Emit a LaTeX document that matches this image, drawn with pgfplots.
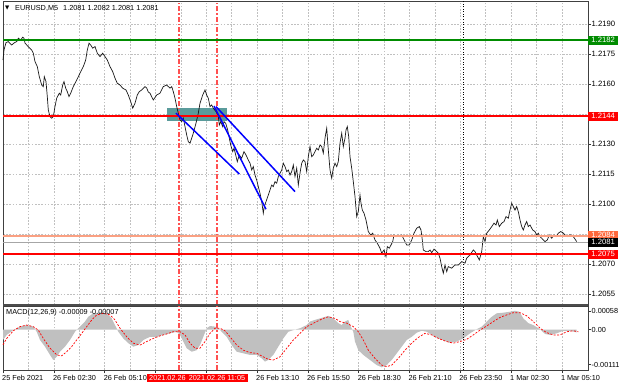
\documentclass[border=0pt]{standalone}
\usepackage{pgfplots}
\pgfplotsset{compat=1.18}
\usepackage{fontspec}
\setmainfont{Liberation Sans}
\newfontfamily\dejavu{DejaVu Sans}
\definecolor{gridc}{RGB}{192,192,192}
\definecolor{mtgreen}{RGB}{0,140,0}
\definecolor{mtred}{RGB}{255,0,0}
\definecolor{mtorange}{RGB}{255,105,60}
\definecolor{mtsalmon}{RGB}{250,160,130}
\definecolor{mtteal}{RGB}{90,155,155}
\definecolor{vred}{RGB}{255,80,80}
\definecolor{histc}{RGB}{192,192,192}
\newcommand{\tf}{\fontsize{7.3}{8}\selectfont}
\newcommand{\yf}{\fontsize{7.7}{8}\selectfont}
\pgfplotsset{mt/.style={scale only axis, width=585pt, xmin=3, xmax=588, clip=false,
  axis line style={black!75, line width=0.6pt},
  xmajorgrids, xminorgrids,
  grid style={gridc, dash pattern=on 1.6pt off 1.6pt, line width=0.5pt},
  minor grid style={gridc, dash pattern=on 1.6pt off 1.6pt, line width=0.5pt},
  xtick={3,53.8,104.6,155.4,206.2,257,307.8,358.6,409.4,460.2,511,561.8},
  minor xtick={28.4,79.2,130,180.8,231.6,282.4,333.2,384,434.8,485.6,536.4},
  tick align=outside, major tick length=3pt, minor tick length=0pt,
  ytick pos=right, yticklabel pos=right,
  tick style={black!80, line width=0.5pt},
  ticklabel style={font=\tf, text=black},
  yticklabel style={font=\yf, inner sep=0.5pt},
  scaled ticks=false,
}}
\tikzset{lbl/.style={anchor=west, text=white, font=\yf, inner sep=0pt, minimum width=30pt, minimum height=9pt},
  vline/.style={vred, line width=1.2pt, dash pattern=on 5pt off 2pt on 1.5pt off 2pt}}
\begin{document}
\begin{tikzpicture}[x=1pt,y=1pt]
\path[use as bounding box, fill=white] (0,0) rectangle (620,-388);
\begin{axis}[mt, name=main, at={(3pt,-1pt)}, anchor=north west, height=304pt,
  ymin=1.20495, ymax=1.22015, ymajorgrids,
  ytick={1.2055,1.2070,1.2085,1.2100,1.2115,1.2130,1.2145,1.2160,1.2175,1.2190},
  yticklabels={1.2055,1.2070,,1.2100,1.2115,1.2130,,1.2160,1.2175,1.2190},
  xticklabels={}, xtick style={draw=none}]
% teal zone
\addplot[fill=mtteal, draw=none] coordinates {(167.3,1.21417) (227.3,1.21417) (227.3,1.21479) (167.3,1.21479)} -- cycle;
% vertical separators
\addplot[vline] coordinates {(179,1.20495) (179,1.22015)};
\addplot[vline] coordinates {(217,1.20495) (217,1.22015)};
\addplot[black, line width=0.8pt, dash pattern=on 1pt off 1.5pt] coordinates {(463,1.20495) (463,1.22015)};
% price
\addplot[black!90, line width=0.7pt] coordinates {
(3,1.21720) (4,1.21770) (6,1.21807) (8.3,1.21812) (11.7,1.21795) (14,1.21805) (16.7,1.21812) (18.3,1.21829) (20.7,1.21820) (22.7,1.21834) (24,1.21829) (25,1.21804) (28.3,1.21787) (31.7,1.21770) (33.3,1.21754) (35,1.21712) (37.3,1.21687) (39.3,1.21637) (41.7,1.21595) (43.3,1.21587) (44.3,1.21637) (46,1.21612) (47.3,1.21537) (48.3,1.21470) (50,1.21437) (51.7,1.21429) (53.3,1.21437) (55,1.21487) (56.7,1.21529) (59.3,1.21554) (60.7,1.21545) (62.7,1.21595) (64,1.21612) (65.7,1.21579) (67.3,1.21562) (69,1.21537) (70.7,1.21554) (73.3,1.21587) (76.7,1.21620) (80,1.21654) (83.3,1.21687) (85.7,1.21720) (87.3,1.21770) (89,1.21804) (90.7,1.21795) (92.7,1.21779) (95,1.21787) (97.3,1.21754) (100,1.21737) (102.7,1.21754) (105,1.21737) (107.3,1.21720) (110,1.21687) (112.7,1.21662) (115,1.21629) (117.3,1.21604) (120,1.21595) (122.7,1.21579) (126,1.21570) (128.3,1.21545) (130.7,1.21512) (132.7,1.21479) (135,1.21504) (137.3,1.21545) (139.3,1.21562) (141.7,1.21570) (143.3,1.21579) (145,1.21587) (146.7,1.21580) (148.3,1.21560) (150,1.21554) (153.3,1.21520) (156.7,1.21545) (160,1.21554) (163.3,1.21587) (166.7,1.21595) (170,1.21579) (171.7,1.21587) (173.3,1.21562) (175,1.21529) (176.7,1.21487) (178.3,1.21454) (180,1.21420) (181.7,1.21412) (183.3,1.21429) (185,1.21387) (186.7,1.21345) (188.3,1.21312) (190,1.21304) (191.7,1.21329) (193.3,1.21354) (196,1.21404) (198.3,1.21454) (200,1.21504) (202.7,1.21545) (205,1.21570) (206.7,1.21545) (208.3,1.21529) (210,1.21487) (211.7,1.21495) (213.3,1.21479) (216,1.21462) (218.3,1.21437) (219.3,1.21395) (220.7,1.21412) (222.7,1.21387) (224,1.21412) (225.7,1.21404) (227.7,1.21370) (229.3,1.21329) (230.7,1.21295) (232.7,1.21262) (234,1.21279) (235.7,1.21245) (237.3,1.21212) (239.3,1.21245) (241.7,1.21229) (244,1.21262) (246,1.21245) (248.3,1.21220) (250,1.21204) (251.7,1.21170) (253.3,1.21187) (255,1.21145) (256.7,1.21120) (258.3,1.21087) (260,1.21054) (261.7,1.21012) (263.3,1.20954) (264.3,1.20987) (266,1.21012) (268.3,1.21045) (270,1.21070) (271.7,1.21095) (273.3,1.21087) (275,1.21112) (276.7,1.21104) (278.3,1.21137) (280,1.21154) (281.7,1.21170) (283.3,1.21204) (285,1.21187) (286.7,1.21162) (288.3,1.21170) (290,1.21145) (291.7,1.21162) (293.3,1.21195) (295,1.21137) (296.7,1.21179) (298.3,1.21095) (300,1.21154) (301.7,1.21204) (303.3,1.21220) (305,1.21212) (306.7,1.21162) (308.3,1.21237) (310,1.21287) (311.7,1.21237) (313.3,1.21245) (315,1.21262) (316.7,1.21279) (318.3,1.21270) (320,1.21295) (321.7,1.21287) (323.3,1.21254) (325,1.21329) (326.7,1.21379) (328.3,1.21270) (330,1.21170) (331.7,1.21129) (333.3,1.21179) (335,1.21204) (336.7,1.21187) (338.3,1.21212) (340,1.21304) (341.7,1.21354) (343.3,1.21287) (345,1.21329) (346,1.21370) (347.3,1.21387) (348.7,1.21337) (350,1.21237) (351.7,1.21179) (353.3,1.21112) (355,1.21037) (356.7,1.20937) (358.3,1.20962) (360,1.21045) (361,1.21004) (362.3,1.20970) (364,1.20954) (366,1.20920) (368.3,1.20862) (370.7,1.20845) (372.7,1.20854) (375,1.20820) (377.3,1.20804) (380,1.20779) (381.7,1.20754) (384,1.20770) (386,1.20737) (387.3,1.20787) (389.3,1.20779) (391,1.20795) (392.7,1.20812) (394,1.20845) (396,1.20837) (398.3,1.20845) (400,1.20837) (401.7,1.20845) (403.3,1.20829) (405,1.20812) (406.7,1.20795) (409.3,1.20795) (411.7,1.20820) (414,1.20854) (416.7,1.20879) (419.3,1.20887) (421,1.20870) (422.3,1.20820) (423.3,1.20770) (426,1.20762) (428.3,1.20762) (430,1.20770) (431.7,1.20757) (434,1.20774) (436.7,1.20762) (438.3,1.20754) (440,1.20729) (441.7,1.20687) (443.3,1.20654) (445,1.20695) (446.7,1.20662) (448.3,1.20687) (451.7,1.20679) (455,1.20695) (458.3,1.20695) (461.7,1.20712) (465,1.20704) (466.7,1.20729) (470,1.20745) (473.3,1.20770) (475,1.20762) (476.7,1.20745) (479.3,1.20720) (481.7,1.20762) (483.3,1.20837) (485,1.20812) (486.7,1.20854) (489.3,1.20870) (491.7,1.20887) (494,1.20904) (496,1.20895) (497.3,1.20920) (499.3,1.20887) (501.7,1.20904) (504,1.20912) (506,1.20937) (508.3,1.20929) (510,1.20970) (511.7,1.21004) (513.3,1.20987) (515,1.20970) (516.7,1.20987) (518.3,1.20962) (520,1.20920) (521.7,1.20887) (523.3,1.20870) (525,1.20895) (526.7,1.20912) (528.3,1.20887) (530,1.20895) (532.7,1.20870) (535,1.20862) (536.7,1.20845) (538.3,1.20854) (540,1.20837) (541.7,1.20829) (545,1.20812) (547.3,1.20820) (549.3,1.20845) (551.7,1.20829) (554,1.20845) (556,1.20837) (558.3,1.20854) (560.7,1.20862) (562.7,1.20857) (565,1.20845) (567.3,1.20837) (569.3,1.20845) (571.7,1.20845) (573.3,1.20837) (576.7,1.20812)};
% horizontal levels
\addplot[mtgreen, line width=1.6pt] coordinates {(3,1.2182) (588,1.2182)};
\addplot[mtred, line width=1.6pt] coordinates {(3,1.2144) (588,1.2144)};
\addplot[mtsalmon, line width=1.2pt] coordinates {(3,1.2084) (588,1.2084)};
\addplot[gray!70, line width=0.5pt] coordinates {(3,1.2081) (588,1.2081)};
\addplot[mtred, line width=2.6pt] coordinates {(3,1.2075) (588,1.2075)};
% trend lines
\addplot[blue, line width=1.5pt] coordinates {(176,1.21454) (239.3,1.21150)};
\addplot[blue, line width=1.5pt] coordinates {(214,1.21490) (266,1.20974)};
\addplot[blue, line width=1.5pt] coordinates {(216,1.21487) (295,1.21062)};
% price labels
\node[lbl, fill=mtgreen] at (axis cs:588,1.2182) {1.2182};
\node[lbl, fill=mtred] at (axis cs:588,1.2144) {1.2144};
\node[lbl, fill=mtorange, yshift=1pt] at (axis cs:588,1.2084) {1.2084};
\node[lbl, fill=black] at (axis cs:588,1.2081) {1.2081};
\node[lbl, fill=mtred] at (axis cs:588,1.2075) {1.2075};
\end{axis}
\begin{axis}[mt, name=macd, at={(3pt,-306pt)}, anchor=north west, height=64pt,
  ymin=-0.0012758, ymax=0.00074025,
  ytick={-0.00111,0,0.00058}, yticklabels={-0.00111,0.00,0.00058},
  yticklabel style={font=\tf},
  xtick pos=bottom,
  xticklabels={25 Feb 2021,26 Feb 02:30,26 Feb 05:10,,,26 Feb 13:10,26 Feb 15:50,26 Feb 18:30,26 Feb 21:10,26 Feb 23:50,1 Mar 02:30,1 Mar 05:10},
  xticklabel style={anchor=north west, xshift=-2pt, yshift=-1.5pt, inner sep=1pt}]
\addplot[fill=histc, draw=none] coordinates {
(3,-0.00033) (6.7,-0.00017) (13.3,-0.00002) (20,0.00009) (26.7,0.00014) (33.3,0.00009) (36.7,-0.00007) (40,-0.00033) (45,-0.00054) (50,-0.00080) (53.3,-0.00096) (56.7,-0.00086) (60,-0.00070) (65,-0.00054) (70,-0.00033) (75,-0.00007) (80,0.00009) (85,0.00025) (88.3,0.00040) (93.3,0.00051) (100,0.00054) (106.7,0.00051) (111.7,0.00035) (115,0.00014) (118.3,-0.00007) (123.3,-0.00028) (128.3,-0.00043) (133.3,-0.00054) (138.3,-0.00049) (143.3,-0.00033) (150,-0.00023) (156.7,-0.00023) (163.3,-0.00017) (170,-0.00012) (176.7,-0.00007) (180,-0.00017) (183.3,-0.00038) (186.7,-0.00059) (191.7,-0.00070) (196.7,-0.00065) (200,-0.00049) (203.3,-0.00023) (206.7,0.00004) (210,0.00011) (215,0.00009) (218.3,0.00004) (221.7,-0.00007) (226.7,-0.00023) (231.7,-0.00049) (236.7,-0.00070) (243.3,-0.00075) (250,-0.00080) (256.7,-0.00080) (261.7,-0.00091) (265,-0.00101) (268.3,-0.00096) (273.3,-0.00080) (278.3,-0.00054) (283.3,-0.00028) (288.3,-0.00007) (293.3,-0.00002) (300,0.00004) (306.7,0.00014) (310,0.00025) (316.7,0.00032) (323.3,0.00038) (328.3,0.00043) (333.3,0.00035) (338.3,0.00020) (341.7,0.00014) (345,0.00025) (348.3,0.00030) (350,0.00014) (353.3,-0.00007) (355,-0.00038) (358.3,-0.00065) (363.3,-0.00080) (370,-0.00096) (376.7,-0.00112) (381.7,-0.00119) (386.7,-0.00112) (391.7,-0.00096) (396.7,-0.00075) (401.7,-0.00054) (406.7,-0.00033) (411.7,-0.00023) (416.7,-0.00010) (421.7,-0.00004) (426.7,-0.00007) (431.7,-0.00017) (438.3,-0.00028) (445,-0.00036) (450,-0.00042) (456.7,-0.00038) (463.3,-0.00028) (470,-0.00012) (476.7,0.00001) (481.7,0.00009) (486.7,0.00025) (491.7,0.00040) (496.7,0.00051) (503.3,0.00053) (510,0.00056) (515,0.00059) (519.3,0.00056) (523.3,0.00035) (528.3,0.00020) (533.3,0.00014) (540,0.00001) (545,-0.00014) (550,-0.00017) (556.7,-0.00012) (563.3,-0.00004) (570,-0.00004) (576.7,-0.00009)} \closedcycle;
\addplot[mtred, line width=0.7pt, dash pattern=on 2pt off 1.5pt] coordinates {
(3,-0.00048) (6.7,-0.00028) (13.3,-0.00004) (20,0.00009) (26.7,0.00014) (33.3,0.00009) (38.3,-0.00002) (43.3,-0.00028) (50,-0.00059) (56.7,-0.00080) (61.7,-0.00083) (66.7,-0.00070) (71.7,-0.00054) (76.7,-0.00033) (81.7,-0.00012) (86.7,0.00009) (91.7,0.00030) (96.7,0.00046) (103.3,0.00051) (110,0.00046) (115,0.00030) (120,0.00004) (126.7,-0.00023) (133.3,-0.00043) (140,-0.00049) (146.7,-0.00038) (153.3,-0.00028) (160,-0.00020) (166.7,-0.00014) (173.3,-0.00007) (180,-0.00007) (185,-0.00017) (190,-0.00043) (195,-0.00059) (200,-0.00059) (205,-0.00038) (210,-0.00012) (215,0.00004) (220,0.00004) (225,-0.00004) (230,-0.00023) (236.7,-0.00049) (243.3,-0.00065) (250,-0.00073) (256.7,-0.00075) (263.3,-0.00086) (268.3,-0.00094) (273.3,-0.00096) (280,-0.00086) (286.7,-0.00059) (293.3,-0.00033) (300,-0.00012) (306.7,0.00009) (310,0.00014) (316.7,0.00025) (323.3,0.00035) (328.3,0.00040) (335,0.00035) (340,0.00025) (346.7,0.00020) (353.3,0.00009) (358.3,-0.00007) (363.3,-0.00033) (368.3,-0.00065) (375,-0.00091) (381.7,-0.00112) (386.7,-0.00117) (391.7,-0.00112) (398.3,-0.00091) (405,-0.00065) (411.7,-0.00043) (418.3,-0.00025) (425,-0.00012) (431.7,-0.00017) (438.3,-0.00028) (446.7,-0.00038) (453.3,-0.00043) (460,-0.00038) (466.7,-0.00031) (473.3,-0.00017) (480,-0.00002) (486.7,0.00011) (493.3,0.00025) (500,0.00038) (506.7,0.00046) (513.3,0.00053) (520,0.00053) (526.7,0.00043) (533.3,0.00025) (540,0.00004) (546.7,-0.00010) (553.3,-0.00017) (560,-0.00017) (566.7,-0.00007) (573.3,-0.00004) (578.3,-0.00007)};
\addplot[vline] coordinates {(179,-0.0012758) (179,0.00074025)};
\addplot[vline] coordinates {(217,-0.0012758) (217,0.00074025)};
\addplot[black, line width=0.8pt, dash pattern=on 1pt off 1.5pt] coordinates {(463,-0.0012758) (463,0.00074025)};
\node[anchor=north west, fill=mtred, text=white, font=\tf, inner xsep=2pt, inner ysep=1.5pt, yshift=-4pt, minimum width=40pt, align=left] at (axis cs:147,-0.0012758) {2021.02.26};
\node[anchor=north, fill=mtred, text=white, font=\tf, inner xsep=3pt, inner ysep=1.5pt, yshift=-4pt] at (axis cs:217,-0.0012758) {2021.02.26 11:05};
\end{axis}
\draw[black!70, line width=1.6pt] (3,-305.2) -- (588,-305.2);
\node[anchor=west, font=\dejavu\fontsize{5.5}{6}\selectfont, inner sep=0pt] at (5,-8) {▼};
\node[anchor=west, font=\tf, inner sep=0pt] at (15,-8) {EURUSD,M5\hspace{3pt} 1.2081 1.2082 1.2081 1.2081};
\node[anchor=west, font=\tf, inner sep=0pt] at (6,-313) {MACD(12,26,9) -0.00009 -0.00007};
\end{tikzpicture}
\end{document}
